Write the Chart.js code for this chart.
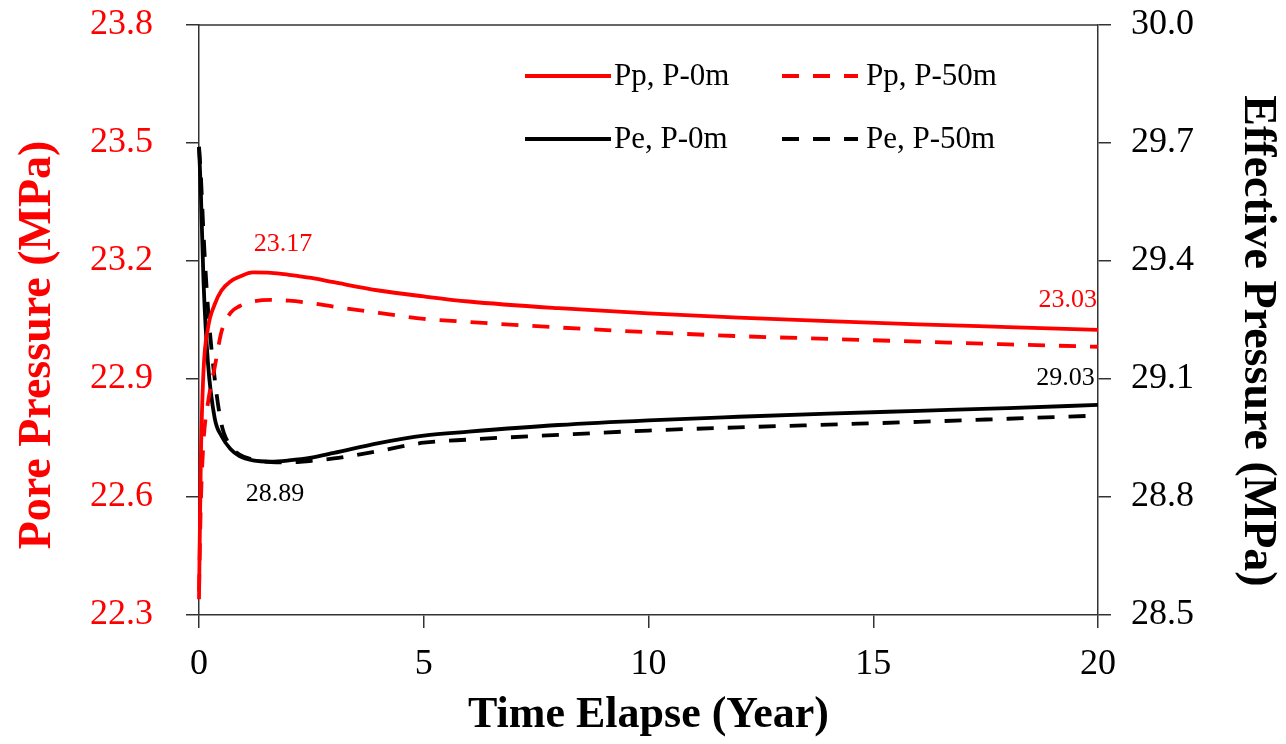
<!DOCTYPE html>
<html>
<head>
<meta charset="utf-8">
<script src="https://cdn.jsdelivr.net/npm/chart.js@4.4.1/dist/chart.umd.min.js"></script>
<style>
html,body{margin:0;padding:0;background:#fff;}
canvas{display:block;}
</style>
</head>
<body>
<canvas id="c" width="1286" height="744"></canvas>
<script>
// ---- data ----
const timeYears = [0, 0.04, 0.1, 0.2, 0.35, 0.5, 0.7, 0.9, 1.2, 1.6, 2.0, 2.5, 3, 4, 5, 6, 8, 10, 12, 14, 16, 18, 20];
const ppP0m  = [22.34, 22.69, 22.92, 23.03, 23.09, 23.125, 23.148, 23.16, 23.171, 23.17, 23.165, 23.157, 23.146, 23.125, 23.11, 23.097, 23.08, 23.067, 23.056, 23.047, 23.039, 23.032, 23.025];
const ppP50m = [22.36, 22.58, 22.74, 22.84, 22.93, 23.02, 23.068, 23.085, 23.097, 23.101, 23.099, 23.093, 23.084, 23.068, 23.053, 23.045, 23.031, 23.019, 23.009, 23.002, 22.995, 22.988, 22.982];
const peP0m  = [29.69, 29.58, 29.35, 29.14, 29.0, 28.955, 28.922, 28.904, 28.893, 28.89, 28.893, 28.9, 28.912, 28.937, 28.956, 28.966, 28.983, 28.995, 29.004, 29.012, 29.019, 29.026, 29.034];
const peP50m = [29.69, 29.62, 29.47, 29.28, 29.1, 28.985, 28.93, 28.908, 28.895, 28.889, 28.888, 28.892, 28.898, 28.917, 28.938, 28.946, 28.958, 28.969, 28.977, 28.984, 28.991, 28.999, 29.007];

const seriesLabels = ['Pp, P-0m', 'Pp, P-50m', 'Pe, P-0m', 'Pe, P-50m'];
const xTickValues = [0, 5, 10, 15, 20];
const leftTickValues = [22.3, 22.6, 22.9, 23.2, 23.5, 23.8];
const rightTickValues = [28.5, 28.8, 29.1, 29.4, 29.7, 30.0];

const xTitle = 'Time Elapse (Year)';
const leftTitle = 'Pore Pressure (MPa)';
const rightTitle = 'Effective Pressure (MPa)';

const annotationTexts = ['23.17', '28.89', '23.03', '29.03'];
const annotationTimes = [1.87, 1.69, 19.98, 19.93];
const annotationValues = [23.244, 28.8075, 23.101, 29.101];
const annotationAxes = ['yL', 'yR', 'yL', 'yR'];

// ---- styles ----
const RED = '#ff0000';
const BLACK = '#000000';
const AXIS = '#333333';
const SERIF = "'Liberation Serif', 'Times New Roman', serif";
const annotationColors = [RED, BLACK, RED, BLACK];
const annotationAlign = ['center', 'center', 'right', 'right'];
const DASH = [17, 14];

const toPts = (vals) => vals.map((v, i) => ({x: timeYears[i], y: v}));

const legendPlugin = {
  id: 'customLegend',
  afterDraw(chart) {
    const ctx = chart.ctx;
    const ds = chart.data.datasets;
    const cols = [{x0: 525, x1: 611, tx: 614}, {x0: 782, x1: 858, tx: 866}];
    const rows = [76, 139];
    ctx.save();
    ctx.font = '31px ' + SERIF;
    ctx.textBaseline = 'middle';
    ctx.textAlign = 'left';
    ds.forEach((d, i) => {
      const c = cols[i % 2];
      const y = rows[Math.floor(i / 2)];
      ctx.strokeStyle = d.borderColor;
      ctx.lineWidth = d.borderWidth;
      ctx.setLineDash(d.borderDash || []);
      ctx.beginPath();
      ctx.moveTo(c.x0, y);
      ctx.lineTo(c.x1, y);
      ctx.stroke();
      ctx.setLineDash([]);
      ctx.fillStyle = '#000';
      ctx.fillText(d.label, c.tx, y + 1);
    });
    ctx.restore();
  }
};

const annotationPlugin = {
  id: 'annots',
  afterDatasetsDraw(chart) {
    const ctx = chart.ctx;
    const xs = chart.scales.x;
    ctx.save();
    ctx.font = '26px ' + SERIF;
    ctx.textBaseline = 'middle';
    annotationTexts.forEach((t, i) => {
      const ys = chart.scales[annotationAxes[i]];
      ctx.fillStyle = annotationColors[i];
      ctx.textAlign = annotationAlign[i];
      ctx.fillText(t, xs.getPixelForValue(annotationTimes[i]), ys.getPixelForValue(annotationValues[i]));
    });
    ctx.restore();
  }
};

const frameAndTitlesPlugin = {
  id: 'frameTitles',
  afterDraw(chart) {
    const {ctx, chartArea} = chart;
    ctx.save();
    ctx.strokeStyle = AXIS;
    ctx.lineWidth = 1.5;
    ctx.beginPath();
    ctx.moveTo(chartArea.left, chartArea.top);
    ctx.lineTo(chartArea.right, chartArea.top);
    ctx.stroke();

    ctx.font = 'bold 46px ' + SERIF;
    ctx.textAlign = 'center';
    ctx.textBaseline = 'middle';
    const midY = (chartArea.top + chartArea.bottom) / 2;
    // left title
    ctx.save();
    ctx.translate(chartArea.left - 161, midY + 25);
    ctx.rotate(-Math.PI / 2);
    ctx.fillStyle = RED;
    ctx.fillText(leftTitle, 0, 0);
    ctx.restore();
    // right title
    ctx.save();
    ctx.translate(chartArea.right + 159, midY + 21);
    ctx.rotate(Math.PI / 2);
    ctx.fillStyle = BLACK;
    ctx.fillText(rightTitle, 0, 0);
    ctx.restore();
    ctx.restore();
  }
};

const commonLine = {
  fill: false,
  pointRadius: 0,
  borderWidth: 3.8,
  cubicInterpolationMode: 'monotone',
  clip: false
};

const zeroPad = s => { s.paddingTop = 0; s.paddingBottom = 0; s.paddingLeft = 0; s.paddingRight = 0; };

new Chart(document.getElementById('c'), {
  type: 'line',
  data: {
    datasets: [
      Object.assign({label: seriesLabels[0], data: toPts(ppP0m), borderColor: RED, yAxisID: 'yL'}, commonLine),
      Object.assign({label: seriesLabels[1], data: toPts(ppP50m), borderColor: RED, borderDash: DASH, yAxisID: 'yL'}, commonLine),
      Object.assign({label: seriesLabels[2], data: toPts(peP0m), borderColor: BLACK, yAxisID: 'yR'}, commonLine),
      Object.assign({label: seriesLabels[3], data: toPts(peP50m), borderColor: BLACK, borderDash: DASH, yAxisID: 'yR'}, commonLine)
    ]
  },
  options: {
    responsive: false,
    animation: false,
    devicePixelRatio: 1,
    layout: {padding: {top: 25, left: 0, right: 0, bottom: 0}},
    plugins: {legend: {display: false}, tooltip: {enabled: false}},
    scales: {
      x: {
        type: 'linear',
        position: 'bottom',
        min: 0, max: 20,
        afterBuildTicks: s => { s.ticks = xTickValues.map(v => ({value: v})); },
        afterFit: s => { s.height = 129; zeroPad(s); },
        ticks: {font: {family: SERIF, size: 36}, color: '#000', padding: 15, callback: v => String(v)},
        grid: {display: true, drawOnChartArea: false, drawTicks: true, tickLength: 13, color: AXIS, lineWidth: 1.5},
        border: {display: true, color: AXIS, width: 1.5},
        title: {display: true, text: xTitle, color: '#000',
                font: {family: SERIF, size: 44, weight: 'bold', lineHeight: 1}, padding: {top: 0, bottom: 6}}
      },
      yL: {
        type: 'linear',
        position: 'left',
        min: 22.3, max: 23.8,
        afterBuildTicks: s => { s.ticks = leftTickValues.map(v => ({value: v})); },
        afterFit: s => { s.width = 199; zeroPad(s); },
        ticks: {font: {family: SERIF, size: 36}, color: RED, padding: 33, callback: v => Number(v).toFixed(1)},
        grid: {display: true, drawOnChartArea: false, drawTicks: true, tickLength: 13, color: AXIS, lineWidth: 1.5},
        border: {display: true, color: AXIS, width: 1.5},
        title: {display: false}
      },
      yR: {
        type: 'linear',
        position: 'right',
        min: 28.5, max: 30.0,
        afterBuildTicks: s => { s.ticks = rightTickValues.map(v => ({value: v})); },
        afterFit: s => { s.width = 188; zeroPad(s); },
        ticks: {font: {family: SERIF, size: 36}, color: '#000', padding: 20, callback: v => Number(v).toFixed(1)},
        grid: {display: true, drawOnChartArea: false, drawTicks: true, tickLength: 13, color: AXIS, lineWidth: 1.5},
        border: {display: true, color: AXIS, width: 1.5},
        title: {display: false}
      }
    }
  },
  plugins: [legendPlugin, annotationPlugin, frameAndTitlesPlugin]
});
</script>
</body>
</html>
